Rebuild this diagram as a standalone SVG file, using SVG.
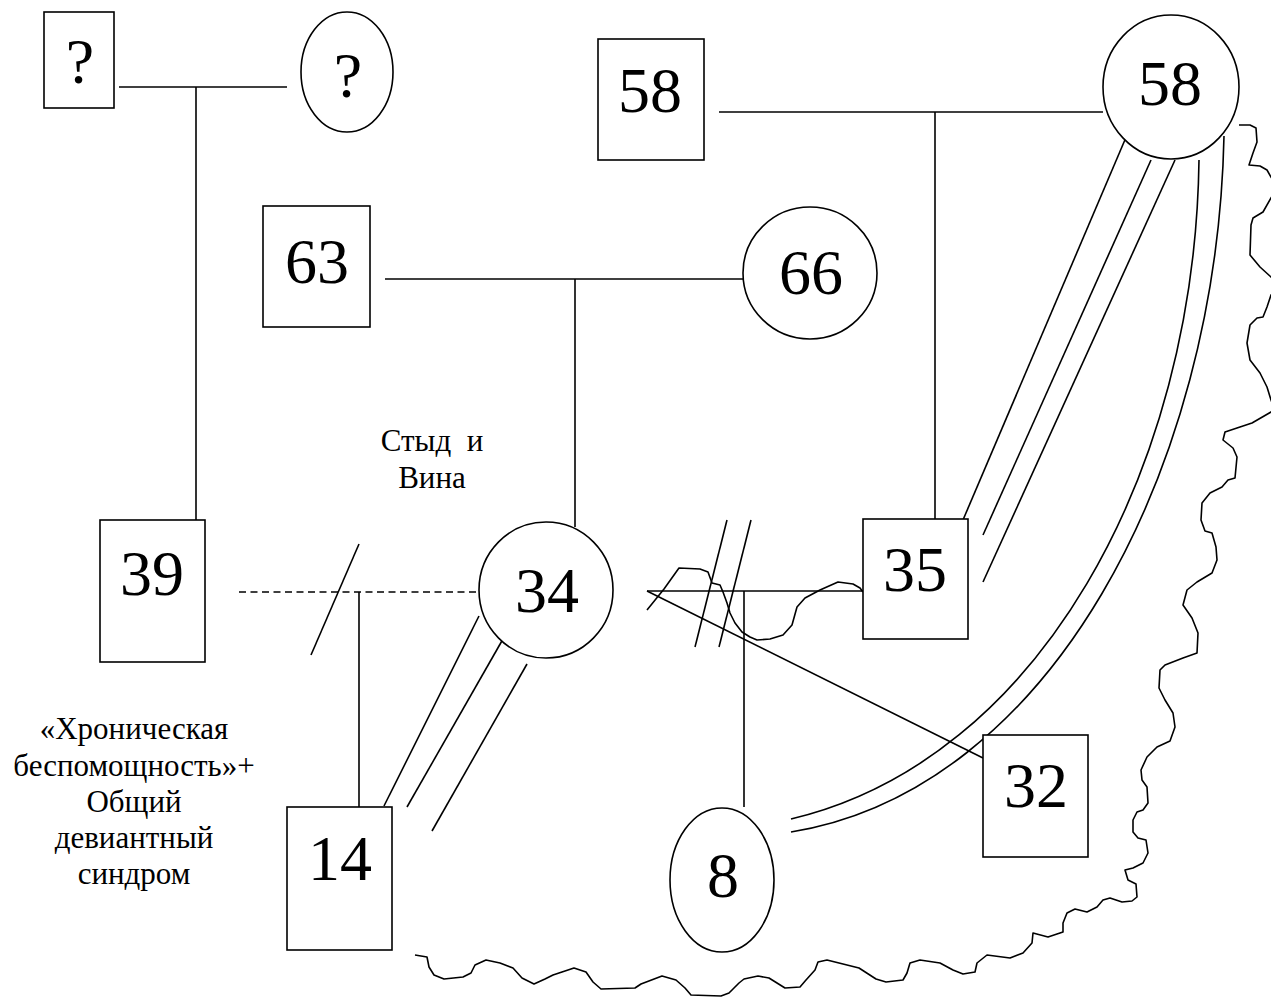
<svg xmlns="http://www.w3.org/2000/svg" width="1271" height="997" viewBox="0 0 1271 997">
  <style>
    .shape { fill: #fff; stroke: #000; stroke-width: 1.6; }
    .ln { fill: none; stroke: #000; stroke-width: 1.6; }
    .num { font-family: "Liberation Serif", "Times New Roman", serif; font-size: 64px; text-anchor: middle; fill: #000; }
    .note { font-family: "Liberation Serif", "Times New Roman", serif; font-size: 31px; text-anchor: middle; fill: #000; }
  </style>
  <rect width="1271" height="997" fill="#fff"/>

  <!-- connectors -->
  <g id="connectors" class="ln">
    <!-- grandparents (unknown) -->
    <line x1="119" y1="87" x2="287" y2="87"/>
    <line x1="196" y1="87" x2="196" y2="520"/>
    <!-- grandparents 58/58 -->
    <line x1="719" y1="112" x2="1103" y2="112"/>
    <line x1="935" y1="112" x2="935" y2="519"/>
    <!-- parents 63/66 -->
    <line x1="385" y1="279" x2="743" y2="279"/>
    <line x1="575" y1="279" x2="575" y2="527"/>
    <!-- former union 39 - 34 (dashed, divorced) -->
    <line x1="239" y1="592" x2="480" y2="592" stroke-dasharray="7 4.5"/>
    <line x1="359" y1="544" x2="311" y2="655"/>
    <line x1="359" y1="592" x2="359" y2="807"/>
    <!-- 34 - 14 triple line -->
    <line x1="479" y1="616" x2="384" y2="806"/>
    <line x1="503" y1="639" x2="407" y2="807"/>
    <line x1="527" y1="664" x2="432" y2="831"/>
    <!-- union 34 - 35 -->
    <line x1="647" y1="591" x2="863" y2="591"/>
    <line x1="744" y1="591" x2="744" y2="807"/>
    <line x1="647" y1="591" x2="983" y2="758"/>
    <!-- double slash -->
    <line x1="727" y1="520" x2="695" y2="647"/>
    <line x1="751" y1="520" x2="719" y2="647"/>
    <!-- conflict zigzag -->
    <polyline stroke-linejoin="round" points="647,610 664,589 679,568 700,569 708,572 712,583 720,585 723,592 727,603 730,613 735,623 742,632 750,637 757,640 770,639 783,635 792,625 797,607 805,598 820,590 838,582 853,584 860,588 863,592"/>
    <!-- 58 - 35 triple line -->
    <line x1="1127" y1="135" x2="960" y2="527"/>
    <line x1="1151" y1="160" x2="983" y2="535"/>
    <line x1="1175" y1="160" x2="983" y2="582"/>
    <!-- 58 - 8 double arc -->
    <path d="M1199,160 C1195,470 1040,760 791,819"/>
    <path d="M1224,136 C1217,470 1050,790 791,832"/>
    <!-- wavy boundary -->
    <polyline stroke-linejoin="round" points="1239,125 1250,125 1256,128 1257,142 1253,153 1249,165 1260,166 1267,170 1271,177 1278,187 1271,198 1263,212 1253,218 1251,225 1250,255 1260,267 1271,277 1278,286 1271,295 1267,307 1263,317 1257,318 1250,325 1247,343 1250,360 1260,373 1267,387 1271,400 1274,408 1271,412 1252,423 1240,427 1225,432 1223,440 1233,448 1237,457 1235,478 1228,480 1222,487 1210,493 1202,503 1201,520 1205,531 1212,533 1216,547 1217,560 1212,573 1197,582 1187,590 1183,605 1192,618 1198,633 1197,653 1183,658 1165,665 1160,670 1159,688 1165,700 1173,713 1175,727 1170,741 1157,747 1147,757 1141,770 1142,780 1147,787 1148,803 1143,810 1137,812 1133,820 1133,832 1138,838 1146,840 1148,853 1143,863 1133,868 1125,870 1128,880 1136,884 1137,897 1132,901 1122,902 1110,898 1103,900 1097,907 1087,912 1075,909 1067,913 1063,923 1063,932 1048,937 1033,933 1032,943 1023,953 1010,958 987,955 977,963 975,972 963,974 953,970 940,963 920,960 910,963 907,973 903,980 886,982 876,979 859,968 827,960 818,962 815,970 806,980 800,987 785,988 769,978 758,976 744,979 739,983 729,993 721,996 691,995 685,988 676,980 662,976 641,984 635,988 601,989 593,982 586,972 574,968 553,975 545,979 534,984 522,978 513,968 500,963 486,960 475,965 471,973 463,977 444,979 434,975 429,967 427,957 415,955"/>
  </g>

  <!-- nodes -->
  <g id="node-q-male">
    <rect class="shape" x="44" y="12" width="70" height="96"/>
    <text class="num" x="80" y="83">?</text>
  </g>
  <g id="node-q-female">
    <ellipse class="shape" cx="347" cy="72" rx="46" ry="60"/>
    <text class="num" x="348" y="97">?</text>
  </g>
  <g id="node-58-male">
    <rect class="shape" x="598" y="39" width="106" height="121"/>
    <text class="num" x="650" y="112">58</text>
  </g>
  <g id="node-58-female">
    <ellipse class="shape" cx="1171" cy="87" rx="68" ry="72"/>
    <text class="num" x="1170" y="105">58</text>
  </g>
  <g id="node-63">
    <rect class="shape" x="263" y="206" width="107" height="121"/>
    <text class="num" x="317" y="283">63</text>
  </g>
  <g id="node-66">
    <ellipse class="shape" cx="810" cy="273" rx="67" ry="66"/>
    <text class="num" x="811" y="294">66</text>
  </g>
  <g id="node-39">
    <rect class="shape" x="100" y="520" width="105" height="142"/>
    <text class="num" x="152" y="595">39</text>
  </g>
  <g id="node-34">
    <ellipse class="shape" cx="546" cy="590" rx="67" ry="68"/>
    <text class="num" x="547" y="612">34</text>
  </g>
  <g id="node-35">
    <rect class="shape" x="863" y="519" width="105" height="120"/>
    <text class="num" x="915" y="591">35</text>
  </g>
  <g id="node-32">
    <rect class="shape" x="983" y="735" width="105" height="122"/>
    <text class="num" x="1036" y="807">32</text>
  </g>
  <g id="node-14">
    <rect class="shape" x="287" y="807" width="105" height="143"/>
    <text class="num" x="340" y="880">14</text>
  </g>
  <g id="node-8">
    <ellipse class="shape" cx="722" cy="880" rx="52" ry="72"/>
    <text class="num" x="723" y="897">8</text>
  </g>

  <!-- annotations -->
  <g id="label-shame">
    <text class="note" x="432" y="451" xml:space="preserve">Стыд  и</text>
    <text class="note" x="432" y="488">Вина</text>
  </g>
  <g id="label-helplessness">
    <text class="note" x="134" y="739">«Хроническая</text>
    <text class="note" x="134" y="776">беспомощность»+</text>
    <text class="note" x="134" y="812">Общий</text>
    <text class="note" x="134" y="848">девиантный</text>
    <text class="note" x="134" y="884">синдром</text>
  </g>
</svg>
